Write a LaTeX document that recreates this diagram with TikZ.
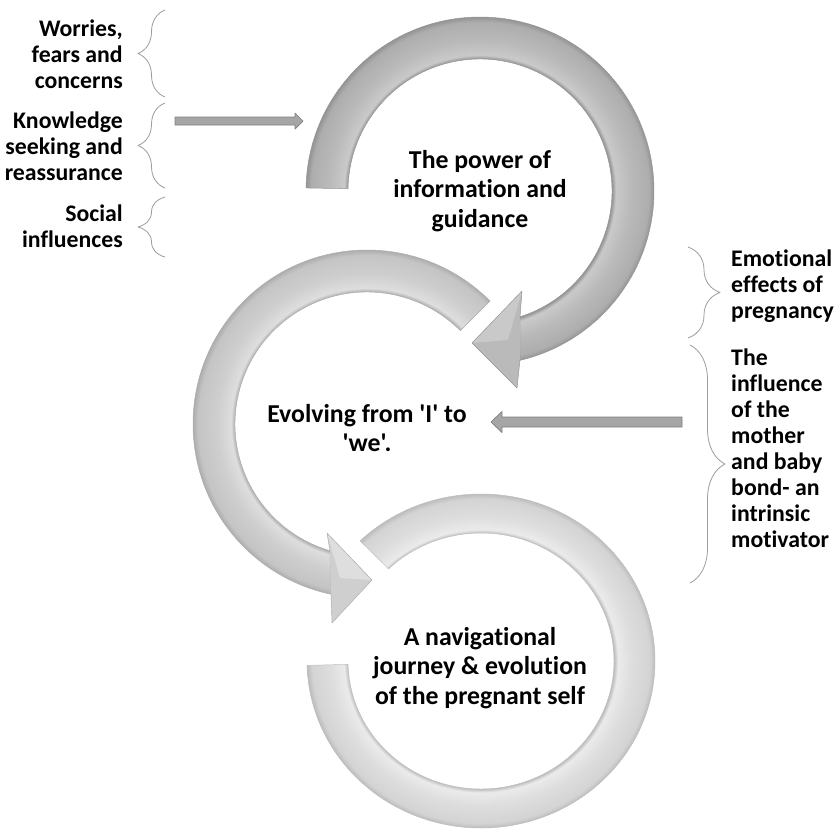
\documentclass[tikz,border=0pt]{standalone}
\usepackage{fontspec}
\setmainfont{Carlito}[Ligatures={CommonOff,TeXOff}]
\usetikzlibrary{calc,decorations.pathreplacing}

\definecolor{raedge}{gray}{0.58}\definecolor{radark}{gray}{0.68}
\definecolor{ramid}{gray}{0.73}\definecolor{rahi}{gray}{0.79}
\definecolor{rbedge}{gray}{0.68}\definecolor{rbdark}{gray}{0.77}
\definecolor{rbmid}{gray}{0.81}\definecolor{rbhi}{gray}{0.87}
\definecolor{rcedge}{gray}{0.74}\definecolor{rcdark}{gray}{0.83}
\definecolor{rcmid}{gray}{0.87}\definecolor{rchi}{gray}{0.92}
\definecolor{arrfill}{gray}{0.65}\definecolor{arrline}{gray}{0.5}
\definecolor{bracegray}{gray}{0.62}

\pgfdeclareradialshading{ringa}{\pgfpoint{0bp}{0bp}}{color(0bp)=(raedge); color(13.2bp)=(raedge); color(13.6bp)=(rahi); color(15bp)=(ramid); color(16.9bp)=(radark); color(17.4bp)=(raedge); color(50bp)=(raedge)}
\pgfdeclareradialshading{ringb}{\pgfpoint{0bp}{0bp}}{color(0bp)=(rbedge); color(13.2bp)=(rbedge); color(13.6bp)=(rbhi); color(15bp)=(rbmid); color(16.9bp)=(rbdark); color(17.4bp)=(rbedge); color(50bp)=(rbedge)}
\pgfdeclareradialshading{ringc}{\pgfpoint{0bp}{0bp}}{color(0bp)=(rcedge); color(13.3bp)=(rcedge); color(13.7bp)=(rchi); color(15bp)=(rcmid); color(16.9bp)=(rcdark); color(17.4bp)=(rcedge); color(50bp)=(rcedge)}

\begin{document}
\begin{tikzpicture}[x=0.03cm, y=0.03cm, line join=round,
    sidetxt/.style={inner sep=0pt, font=\fontsize{20.3}{22.2}\selectfont\bfseries},
    maintxt/.style={inner sep=0pt, align=center, font=\fontsize{22}{25.2}\selectfont\bfseries},
    blockarr/.style={fill=arrfill, draw=arrline, line width=0.6pt},
    curly/.style={draw=bracegray, line width=0.7pt, decorate, decoration={brace, amplitude=#1}},
    rim/.style={draw=#1, line width=0.4pt}]
\useasboundingbox (0,0) rectangle (840,-832);
\coordinate (c1) at (480,-191);
\coordinate (c2) at (367,-424);
\coordinate (c3) at (481,-661);

% bottom ring (a little flattened)
\draw[rim=rcedge, path picture={\shade[shading=ringc] (c3) ++(-250,-240) rectangle ++(500,480);}]
    (c3) ++(134:174 and 167) arc[start angle=134, end angle=-178.5, x radius=174, y radius=167]
    -- ($(c3)+(-178.5:133 and 128)$) arc[start angle=-178.5, end angle=134, x radius=133, y radius=128] -- cycle;

% middle ring
\draw[rim=rbedge, path picture={\shade[shading=ringb] (c2) ++(-250,-250) rectangle ++(500,500);}]
    (c2) ++(45:174) arc[start angle=45, end angle=258.1, radius=174]
    -- ($(c2)+(253.7:132)$) arc[start angle=253.7, end angle=45, radius=132] -- cycle;
\coordinate (h2a) at (330,-551); \coordinate (h2b) at (327,-533); \coordinate (h2t) at (372,-580);
\coordinate (h2c) at (332,-623); \coordinate (h2d) at (331,-594); \coordinate (h2m) at (340,-578);
\fill[rbmid] (h2a) -- (h2b) -- (h2t) -- (h2c) -- (h2d) -- cycle;
\fill[rbhi] (h2b) -- (h2t) -- (h2m) -- cycle;
\draw[rim=rbedge] (h2a) -- (h2b) -- (h2t) -- (h2c) -- (h2d);

% top ring
\draw[rim=raedge, path picture={\shade[shading=ringa] (c1) ++(-250,-250) rectangle ++(500,500);}]
    (c1) ++(179:174) arc[start angle=179, end angle=-76.7, radius=174]
    -- ($(c1)+(-72.4:132)$) arc[start angle=-72.4, end angle=179, radius=132] -- cycle;
\coordinate (h1a) at (520,-317); \coordinate (h1b) at (522,-291); \coordinate (h1t) at (472,-343);
\coordinate (h1c) at (517,-388); \coordinate (h1d) at (520,-360); \coordinate (h1m) at (508,-340);
\fill[ramid] (h1a) -- (h1b) -- (h1t) -- (h1c) -- (h1d) -- cycle;
\fill[rahi] (h1b) -- (h1t) -- (h1m) -- cycle;
\draw[rim=raedge] (h1a) -- (h1b) -- (h1t) -- (h1c) -- (h1d);

% texts in the rings
\node[maintxt] (power) at (c1) {The power of\\information and\\guidance};
\node[maintxt] (evolving) at (367,-428) {Evolving from 'I' to\\'we'.};
\node[maintxt] (journey) at (480,-668) {A navigational\\journey \& evolution\\of the pregnant self};

% left side
\node[sidetxt, align=right, anchor=east] (worries) at (123,-54) {Worries,\\fears and\\concerns};
\node[sidetxt, align=right, anchor=east] (knowledge) at (123,-146) {Knowledge\\seeking and\\reassurance};
\node[sidetxt, align=right, anchor=east] (social) at (123,-226) {Social\\influences};
\draw[curly=0.81cm] (165,-97) -- (165,-10);
\draw[curly=0.81cm] (165,-188) -- (165,-103);
\draw[curly=0.81cm] (165,-257) -- (165,-197);

% right side
\node[sidetxt, align=left, anchor=west] (emotional) at (731,-286) {Emotional\\effects of\\pregnancy};
\node[sidetxt, align=left, anchor=west] (bond) at (731,-448) {The\\influence\\of the\\mother\\and baby\\bond- an\\intrinsic\\motivator};
\draw[curly=0.96cm] (688,-247) -- (688,-338);
\draw[curly=1.05cm] (690,-345) -- (690,-583);

% block arrows
\coordinate (inA) at (175,-121); \coordinate (inB) at (303,-121);
\coordinate (inC) at (682,-422); \coordinate (inD) at (491,-422);
\draw[blockarr] (inA) ++(0,4) -- ++(120,0) -- ++(0,4) -- (inB) -- ++(-8,-8) -- ++(0,4) -- ++(-120,0) -- cycle;
\draw[blockarr] (inC) ++(0,5) -- ++(-180,0) -- ++(0,5.5) -- (inD) -- ++(11,-10.5) -- ++(0,5.5) -- ++(180,0) -- cycle;
\end{tikzpicture}
\end{document}
